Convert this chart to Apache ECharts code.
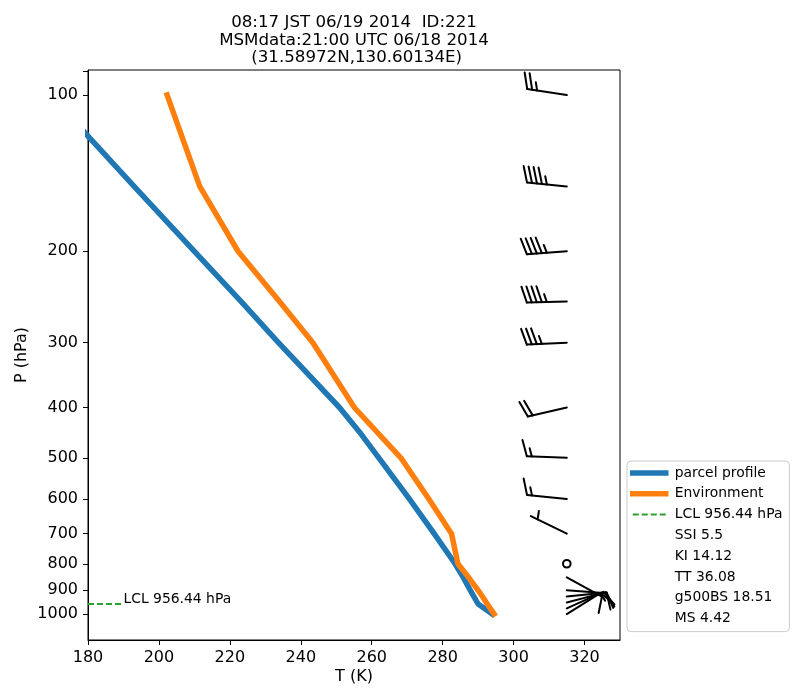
<!DOCTYPE html>
<html>
<head>
<meta charset="utf-8">
<script src="https://cdn.jsdelivr.net/npm/echarts@6/dist/echarts.min.js"></script>
<style>html,body{margin:0;padding:0;background:#fff}#chart{width:800px;height:700px}</style>
</head>
<body>
<div id="chart"></div>
<script>
// ---- data ----
const titleLines = ['08:17 JST 06/19 2014  ID:221', 'MSMdata:21:00 UTC 06/18 2014', ' (31.58972N,130.60134E)'];
const xTicks = [180, 200, 220, 240, 260, 280, 300, 320];
const yTicks = [100, 200, 300, 400, 500, 600, 700, 800, 900, 1000];

const parcelP = [1000, 956.44, 900, 850, 800, 700, 600, 500, 450, 400, 300, 250, 200, 150, 120, 100];
const parcelT = [294.0, 290.0, 287.8, 285.8, 283.5, 277.6, 270.6, 262.0, 257.0, 250.9, 233.7, 223.2, 210.0, 193.0, 180.0, 170.0];

const envP = [1000, 975, 950, 925, 900, 850, 800, 700, 600, 500, 400, 300, 250, 200, 150, 100];
const envT = [294.5, 293.4, 292.3, 291.2, 290.0, 287.3, 284.3, 282.5, 276.1, 268.2, 255.1, 243.4, 234.0, 222.3, 211.5, 202.3];

const lclP = 956.44;
const lclT = [180, 190];
const lclName = 'LCL 956.44 hPa';

const indexNames = ['SSI', 'KI', 'TT', 'g500BS', 'MS'];
const indexValues = ['5.5', '14.12', '36.08', '18.51', '4.42'];

const barbP = [100, 150, 200, 250, 300, 400, 500, 600, 700, 800, 850, 900, 925, 950, 975, 1000];
const barbU = [24.7, 44.8, 44.9, 45.0, 35.0, 19.5, 15.0, 14.9, 4.5, 0, -8.8, -10.0, -9.95, -14.5, -9.1, -8.5];
const barbV = [-3.7, -4.5, 3.4, 1.1, 1.7, 4.5, -0.6, -1.5, -2.2, 0, 4.8, 0.75, -1.0, -3.8, -4.1, -5.3];

// ---- chart ----
const BARB_T = 315;
const FONT = 'DejaVu Sans';
const chart = echarts.init(document.getElementById('chart'), null, {renderer: 'canvas'});

const pairs = (xs, ys) => xs.map((x, i) => [x, ys[i]]);

function renderBarb(params, api) {
  const pt = api.coord([api.value(0), api.value(1)]);
  const u = api.value(2), v = api.value(3);
  const mag = Math.hypot(u, v);
  const spd = Math.round(mag / 5) * 5;
  if (spd < 5) {
    return {type: 'circle', shape: {cx: pt[0], cy: pt[1], r: 3.8},
            style: {stroke: '#000', fill: null, lineWidth: 2}};
  }
  const dx = -u / mag, dy = v / mag;
  const nx = -dy, ny = dx;
  const L = 40, fh = 16, fw = 10, sp = 5;
  const P = (o, h) => [pt[0] + o * dx + h * nx, pt[1] + o * dy + h * ny];
  const st = {stroke: '#000', lineWidth: 2, lineCap: 'round'};
  const seg = (a, b) => ({type: 'line', shape: {x1: a[0], y1: a[1], x2: b[0], y2: b[1]}, style: st});
  const children = [seg(pt, P(L, 0))];
  const nflags = Math.floor(spd / 50);
  const nb = Math.floor((spd % 50) / 10);
  const half = (spd % 10) >= 5;
  let off = L;
  for (let i = 0; i < nflags; i++) {
    if (off !== L) off += sp / 2;
    children.push({type: 'polygon', shape: {points: [P(off, 0), P(off - fw / 2, fh), P(off - fw, 0)]},
                   style: {fill: '#000', stroke: '#000', lineWidth: 1}});
    off -= fw + sp;
  }
  for (let i = 0; i < nb; i++) {
    children.push(seg(P(off, 0), P(off + fw / 2, fh)));
    off -= sp;
  }
  if (half) {
    if (off === L) off -= 1.5 * sp;
    children.push(seg(P(off, 0), P(off + fw / 4, fh / 2)));
  }
  return {type: 'group', children};
}

const lineCommon = {type: 'line', symbol: 'none', showSymbol: false, clip: true, animation: false};

const series = [
  Object.assign({}, lineCommon, {
    name: 'parcel profile', data: pairs(parcelT, parcelP), z: 3,
    itemStyle: {color: '#1f77b4'},
    lineStyle: {color: '#1f77b4', width: 5.5, join: 'round', cap: 'square'}
  }),
  Object.assign({}, lineCommon, {
    name: 'Environment', data: pairs(envT, envP), z: 4,
    itemStyle: {color: '#ff7f0e'},
    lineStyle: {color: '#ff7f0e', width: 5.5, join: 'round', cap: 'square'}
  }),
  Object.assign({}, lineCommon, {
    name: lclName, data: lclT.map(t => [t, lclP]), z: 5,
    itemStyle: {color: '#2ca02c'},
    lineStyle: {color: '#2ca02c', width: 2, type: [6, 3]},
    endLabel: {show: true, formatter: lclName, distance: 0, offset: [0, -5],
               color: '#000', fontSize: 13.9, fontFamily: FONT}
  }),
  {
    type: 'custom', name: 'barbs', coordinateSystem: 'cartesian2d', clip: false, animation: false, z: 6,
    encode: {x: 0, y: 1},
    data: barbP.map((p, i) => [BARB_T, p, barbU[i], barbV[i]]),
    renderItem: renderBarb
  }
];
indexNames.forEach((n, i) => {
  series.push({type: 'line', name: n + ' ' + indexValues[i], data: [], symbol: 'none',
               itemStyle: {opacity: 0}, lineStyle: {opacity: 0}});
});

const legendData = [
  {name: 'parcel profile', itemStyle: {opacity: 0}, lineStyle: {width: 5.5}},
  {name: 'Environment', itemStyle: {opacity: 0}, lineStyle: {width: 5.5}},
  {name: lclName, itemStyle: {opacity: 0}, lineStyle: {width: 2}}
].concat(indexNames.map((n, i) => ({name: n + ' ' + indexValues[i], icon: 'none'})));

const option = {
  animation: false,
  backgroundColor: '#fff',
  textStyle: {fontFamily: FONT, color: '#000'},
  title: {
    text: titleLines.join('\n'), left: 349, top: 9, textAlign: 'center',
    textStyle: {fontFamily: FONT, fontSize: 16.67, fontWeight: 'normal', color: '#000', lineHeight: 17.5}
  },
  legend: {
    orient: 'vertical', left: 627, top: 461,
    data: legendData,
    itemWidth: 33, itemHeight: 14, itemGap: 6.8,
    padding: [5, 7, 6, 3],
    borderColor: '#cccccc', borderWidth: 1, borderRadius: 4, backgroundColor: '#fff',
    selectedMode: false,
    textStyle: {fontFamily: FONT, fontSize: 13.9, color: '#000', lineHeight: 14, padding: [0, 0, 0, 4]}
  },
  grid: {left: 88, right: 180, top: 70, bottom: 60, show: true, borderColor: '#000', borderWidth: 1,
         backgroundColor: 'transparent', containLabel: false},
  xAxis: {
    type: 'value', min: 180, max: 330, interval: 10,
    name: 'T (K)', nameLocation: 'middle', nameGap: 29, nameMoveOverlap: false,
    nameTextStyle: {fontFamily: FONT, fontSize: 16, color: '#000'},
    axisLine: {show: true, lineStyle: {color: '#000', width: 1}},
    axisTick: {show: true, inside: false, length: 5, lineStyle: {color: '#000'}, customValues: xTicks},
    axisLabel: {show: true, margin: 10, fontFamily: FONT, fontSize: 16, color: '#000', customValues: xTicks},
    splitLine: {show: false}
  },
  yAxis: {
    type: 'log', logBase: 10, inverse: true, min: 89.5, max: 1122,
    name: 'P (hPa)', nameLocation: 'middle', nameGap: 58, nameRotate: 90, nameMoveOverlap: false,
    nameTextStyle: {fontFamily: FONT, fontSize: 16, color: '#000'},
    axisLine: {show: true, lineStyle: {color: '#000', width: 1}},
    axisTick: {show: true, inside: false, length: 5, lineStyle: {color: '#000'}, customValues: [90].concat(yTicks)},
    axisLabel: {show: true, margin: 10, fontFamily: FONT, fontSize: 16, color: '#000', customValues: yTicks,
                formatter: v => String(Math.round(v))},
    splitLine: {show: false}
  },
  series: series
};
chart.setOption(option);
</script>
</body>
</html>
